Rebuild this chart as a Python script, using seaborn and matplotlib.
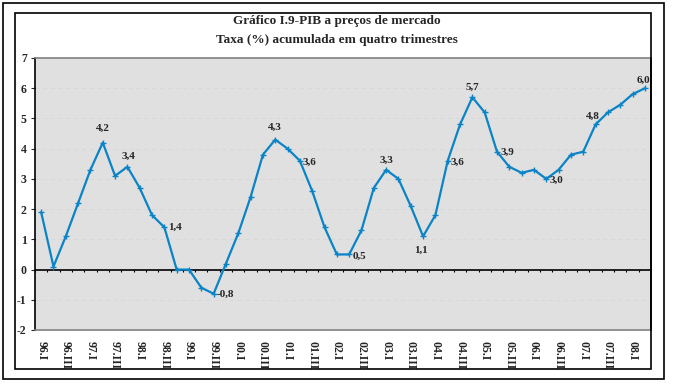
import seaborn as sns
import matplotlib.pyplot as plt
import matplotlib.patches as mpatches
import numpy as np
import pandas as pd

# quarterly GDP, accumulated 4-quarter rate (%)
years = ['96', '97', '98', '99', '00', '01', '02', '03', '04', '05', '06', '07', '08']
quarters = ['I', 'II', 'III', 'IV']
periods = [y + '.' + q for y in years for q in quarters][:50]
taxa = [1.9, 0.1, 1.1, 2.2, 3.3, 4.2, 3.1, 3.4, 2.7, 1.8,
        1.4, 0.0, 0.0, -0.6, -0.8, 0.2, 1.2, 2.4, 3.8, 4.3,
        4.0, 3.6, 2.6, 1.4, 0.5, 0.5, 1.3, 2.7, 3.3, 3.0,
        2.1, 1.1, 1.8, 3.6, 4.8, 5.7, 5.2, 3.9, 3.4, 3.2,
        3.3, 3.0, 3.3, 3.8, 3.9, 4.8, 5.2, 5.45, 5.8, 6.0]

# which points carry a value label, and where the label sits (offset in px)
label_idx = [5, 7, 10, 14, 19, 21, 25, 28, 31, 33, 35, 37, 41, 45, 49]
label_off = [(0, 14), (1, 11), (11, 0), (12, -1), (0, 12), (10, -2), (10, -2), (0, 10),
             (-2, -14), (10, -2), (0, 10), (10, -1), (10, -1), (-3, 8), (-1, 8)]
ylabels = ['-2', '-1', '0', '1', '2', '3', '4', '5', '6', '7']

df = pd.DataFrame({'pos': np.arange(len(periods)), 'periodo': periods, 'taxa': taxa})

sns.set_style('white')
plt.rcParams['font.family'] = ['Liberation Serif', 'DejaVu Serif']
plt.rcParams['font.weight'] = 'bold'
plt.rcParams['axes.unicode_minus'] = False

fig = plt.figure(figsize=(6.73, 3.84), dpi=100)
ax = fig.add_axes([35 / 673, 54 / 384, 616 / 673, 272 / 384])
ax.set_facecolor('#e0e0e0')

# frames around the chart
W, H = 673, 384
fig.patches.append(mpatches.Rectangle((3 / W, 1 - 379 / H), 661 / W, 376 / H, transform=fig.transFigure,
                                      fill=False, edgecolor='black', lw=1.2))
fig.patches.append(mpatches.Rectangle((15 / W, 1 - 369 / H), 636 / W, 356 / H, transform=fig.transFigure,
                                      fill=False, edgecolor='black', lw=1.2))

for v in range(-2, 8):
    ax.axhline(v, color='#d8d8d8', lw=0.7, ls=(0, (4, 4)), zorder=0)
ax.axhline(0, color='black', lw=1.2, zorder=1)
ax.vlines(np.arange(len(periods) + 1) - 0.5, -0.09, 0, color='black', lw=0.8, zorder=1)

sns.lineplot(data=df, x='pos', y='taxa', ax=ax, color='#0a84c6', lw=1.6, sort=False,
             marker='+', markersize=4, markeredgewidth=1, markeredgecolor='#0a84c6', zorder=3)

for i, (dx, dy) in zip(label_idx, label_off):
    ax.annotate(('%.1f' % taxa[i]).replace('.', ','), (i, taxa[i]), xytext=(dx * 0.72, dy * 0.72),
                textcoords='offset points', ha='center', va='center', fontsize=8, fontweight='bold')

ax.set_xlim(-0.5, len(periods) - 0.5)
ax.set_ylim(-2, 7)
ax.set_yticks(range(-2, 8))
ax.set_yticklabels(ylabels)
ax.set_xticks(df['pos'][::2])
ax.set_xticklabels(df['periodo'][::2], rotation=-90, fontsize=8.5, fontweight='bold')
ax.tick_params(axis='x', length=0, pad=8)
ax.tick_params(axis='y', length=3, width=0.8, direction='out', labelsize=8.5, pad=3, left=True)
ax.set_xlabel('')
ax.set_ylabel('')

for side in ['top', 'bottom']:
    ax.spines[side].set_color('#808080')
    ax.spines[side].set_linewidth(1.2)
for side in ['left', 'right']:
    ax.spines[side].set_color('black')
    ax.spines[side].set_linewidth(1.2)

fig.text(337 / W, 1 - 21 / H, 'Gráfico I.9-PIB a preços de mercado', ha='center', va='center',
         fontsize=9.5, fontweight='bold')
fig.text(337 / W, 1 - 40 / H, 'Taxa (%) acumulada em quatro trimestres', ha='center', va='center',
         fontsize=9.5, fontweight='bold')

fig.savefig('out.png', dpi=100)
